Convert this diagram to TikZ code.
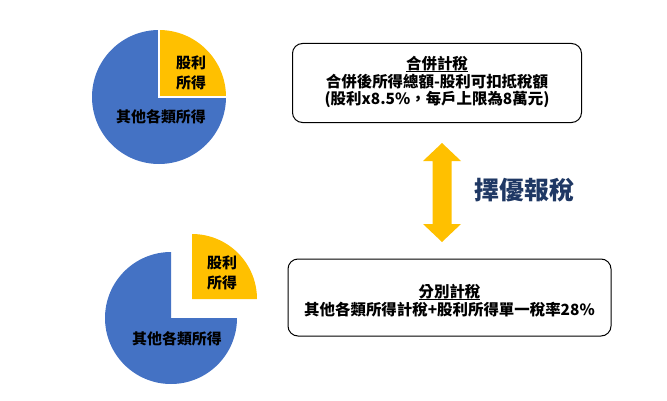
\documentclass[tikz,border=0pt]{standalone}
\usepackage{fontspec}
\setmainfont{Liberation Serif}
\newfontfamily\cjk{Noto Sans CJK TC}
\newcommand\myul[1]{\setbox0\hbox{#1}\rlap{\rule[-3bp]{\wd0}{0.9bp}}\box0}
\definecolor{pieblue}{HTML}{4472C4}
\definecolor{pieyellow}{HTML}{FFC000}
\definecolor{navy}{HTML}{1F3864}
\tikzset{
  lbl/.style={font=\cjk\bfseries\fontsize{15}{20}\selectfont, text=black, align=center, inner sep=0pt},
  taxbox/.style={draw=black, line width=1bp, rounded corners=10bp, inner sep=0pt},
  boxtext/.style={align=center, font=\cjk\bfseries\fontsize{15.5}{18}\selectfont, inner sep=0pt},
  blueslice/.style={fill=pieblue},
  yellowslice/.style={fill=pieyellow},
}
\begin{document}
\begin{tikzpicture}[x=1bp,y=1bp]
\useasboundingbox (0,0) rectangle (667,400);
% pie 1
\fill[blueslice] (159,303) -- (159,370) arc[start angle=90, end angle=360, radius=67] -- cycle;
\fill[yellowslice] (159,303) -- (226,303) arc[start angle=0, end angle=90, radius=67] -- cycle;
\draw[white, line width=1.5bp] (159,371) -- (159,303) -- (227,303);
\node[lbl] (d1) at (191,327) {股利\\所得};
\node[lbl] (o1) at (161,283) {其他各類所得};
% pie 2
\fill[blueslice] (171,82) -- (171,148) arc[start angle=90, end angle=360, radius=66] -- cycle;
\fill[yellowslice] (192,101) -- (257,101) arc[start angle=0, end angle=90, radius=65] -- cycle;
\node[lbl] (d2) at (222,127) {股利\\所得};
\node[lbl] (o2) at (177,61) {其他各類所得};
% boxes
\node[taxbox, minimum width=289bp, minimum height=79bp] (top) at (437,317) {};
\node[boxtext] (toptxt) at ([yshift=1bp]top.center)
  {\myul{合併計稅}\\合併後所得總額-股利可扣抵稅額\\(股利x8.5\%，每戶上限為8萬元)};
\node[taxbox, minimum width=323bp, minimum height=77bp] (bot) at (449.5,102.5) {};
\node[boxtext] (bottxt) at ([yshift=-3bp]bot.center)
  {\myul{分別計稅}\\其他各類所得計稅+股利所得單一稅率28\%};
% arrow
\fill[pieyellow] (442,257) -- (461,239) -- (451.5,239) -- (451.5,176) -- (461,176) -- (442,158)
  -- (423,176) -- (432.5,176) -- (432.5,239) -- (423,239) -- cycle;
\node[font=\cjk\bfseries\fontsize{25}{28}\selectfont, text=navy, inner sep=0pt] (choose) at (524.5,210) {擇優報稅};
\end{tikzpicture}
\end{document}
